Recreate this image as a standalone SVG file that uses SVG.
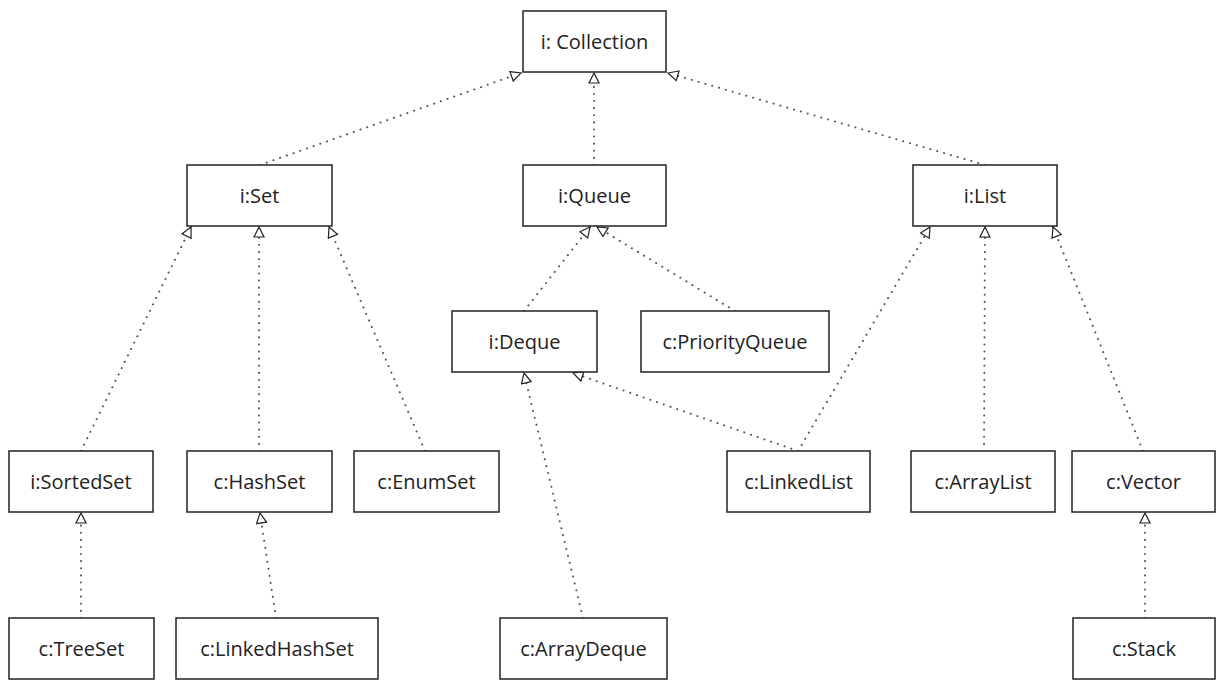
<svg xmlns="http://www.w3.org/2000/svg" width="1224" height="689" viewBox="0 0 1224 689">
<defs>
<marker id="tri" viewBox="0 0 12 12" refX="11" refY="6" markerWidth="12" markerHeight="12" markerUnits="userSpaceOnUse" orient="auto">
<path d="M1,1 L11,6 L1,11 Z" fill="#fff" stroke="#222" stroke-width="1.2"/>
</marker>
<style>
.box{fill:#fff;stroke:#222;stroke-width:1.5}
.lbl{font-family:"Comic Sans MS","Open Sans","DejaVu Sans",sans-serif;font-size:20px;fill:#222;text-anchor:middle;dominant-baseline:central}
.c{fill:none;stroke:#555;stroke-width:2;stroke-dasharray:0.1 7;stroke-linecap:round;marker-end:url(#tri)}
</style>
</defs>
<rect width="1224" height="689" fill="#fff"/>
<g id="connectors">
<line class="c" x1="260" y1="165" x2="521" y2="73"/>
<line class="c" x1="594" y1="165" x2="594" y2="73"/>
<line class="c" x1="985" y1="165" x2="668" y2="73"/>
<line class="c" x1="81" y1="451" x2="191" y2="227"/>
<line class="c" x1="259" y1="451" x2="259" y2="227"/>
<line class="c" x1="425" y1="451" x2="329" y2="227"/>
<line class="c" x1="81" y1="618" x2="81" y2="513"/>
<line class="c" x1="276" y1="618" x2="260" y2="513"/>
<line class="c" x1="524" y1="311" x2="590" y2="227"/>
<line class="c" x1="735" y1="311" x2="597" y2="227"/>
<line class="c" x1="583" y1="618" x2="524" y2="373"/>
<line class="c" x1="798" y1="451" x2="573" y2="373"/>
<line class="c" x1="798" y1="451" x2="930" y2="227"/>
<line class="c" x1="984" y1="451" x2="985" y2="227"/>
<line class="c" x1="1143" y1="451" x2="1053" y2="227"/>
<line class="c" x1="1145" y1="618" x2="1145" y2="513"/>
</g>
<g id="collection"><rect class="box" x="523" y="11" width="143" height="61"/><text class="lbl" x="594.5" y="41.5">i: Collection</text></g>
<g id="set"><rect class="box" x="187" y="165" width="145" height="61"/><text class="lbl" x="259.5" y="195.5">i:Set</text></g>
<g id="queue"><rect class="box" x="523" y="165" width="143" height="61"/><text class="lbl" x="594.5" y="195.5">i:Queue</text></g>
<g id="list"><rect class="box" x="913" y="165" width="144" height="61"/><text class="lbl" x="985" y="195.5">i:List</text></g>
<g id="deque"><rect class="box" x="452" y="311" width="145" height="61"/><text class="lbl" x="524.5" y="341.5">i:Deque</text></g>
<g id="priorityqueue"><rect class="box" x="641" y="311" width="188" height="61"/><text class="lbl" x="735" y="341.5">c:PriorityQueue</text></g>
<g id="sortedset"><rect class="box" x="9" y="451" width="144" height="61"/><text class="lbl" x="81" y="481.5">i:SortedSet</text></g>
<g id="hashset"><rect class="box" x="187" y="451" width="145" height="61"/><text class="lbl" x="259.5" y="481.5">c:HashSet</text></g>
<g id="enumset"><rect class="box" x="354" y="451" width="145" height="61"/><text class="lbl" x="426.5" y="481.5">c:EnumSet</text></g>
<g id="linkedlist"><rect class="box" x="727" y="451" width="143" height="61"/><text class="lbl" x="798.5" y="481.5">c:LinkedList</text></g>
<g id="arraylist"><rect class="box" x="911" y="451" width="144" height="61"/><text class="lbl" x="983" y="481.5">c:ArrayList</text></g>
<g id="vector"><rect class="box" x="1072" y="451" width="143" height="61"/><text class="lbl" x="1143.5" y="481.5">c:Vector</text></g>
<g id="treeset"><rect class="box" x="9" y="618" width="145" height="61"/><text class="lbl" x="81.5" y="648.5">c:TreeSet</text></g>
<g id="linkedhashset"><rect class="box" x="176" y="618" width="202" height="61"/><text class="lbl" x="277" y="648.5">c:LinkedHashSet</text></g>
<g id="arraydeque"><rect class="box" x="500" y="618" width="167" height="61"/><text class="lbl" x="583.5" y="648.5">c:ArrayDeque</text></g>
<g id="stack"><rect class="box" x="1073" y="618" width="142" height="61"/><text class="lbl" x="1144" y="648.5">c:Stack</text></g>
</svg>
